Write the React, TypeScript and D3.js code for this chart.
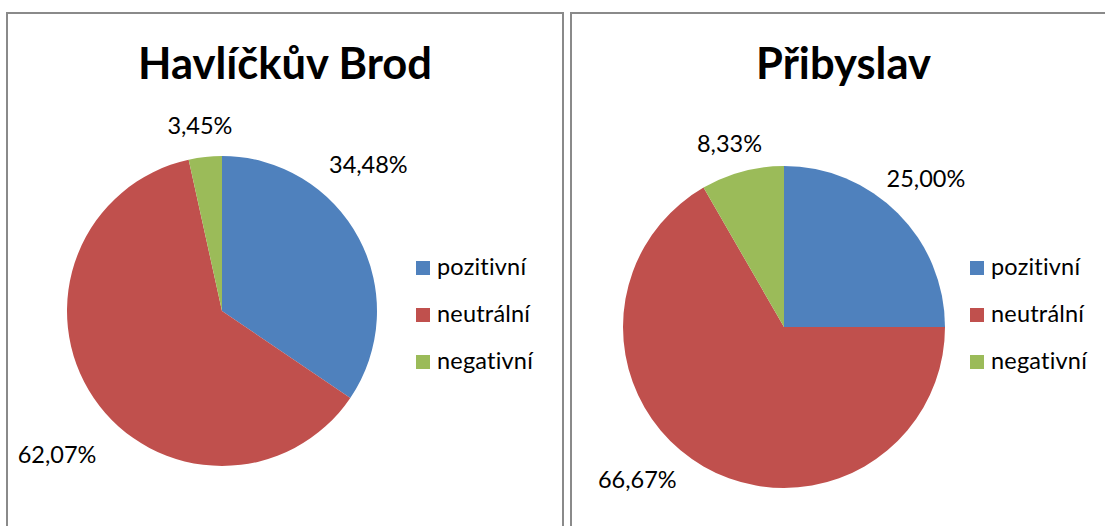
import React from 'react'
import * as d3 from 'd3'

const categories = ['pozitivní', 'neutrální', 'negativní']
const sliceColors = ['#4F81BD', '#C0504D', '#9BBB59']

const brodTitle = 'Havlíčkův Brod'
const brodValues = [34.48, 62.07, 3.45]

const pribyslavTitle = 'Přibyslav'
const pribyslavValues = [25.0, 66.67, 8.33]

const FONT = 'Lato, "Open Sans", sans-serif'
// Lato joins "ti", Calibri in the original doesn't
const noLig = {
  fontVariantLigatures: 'none' as const,
  fontFeatureSettings: '"liga" 0, "clig" 0, "calt" 0, "dlig" 0',
  letterSpacing: '0.2px',
}

type PanelProps = {
  title: string
  values: number[]
  left: number
  right: number
  cx: number
  cy: number
  r: number
  legendX: number
  // label placement, nudges relative to the slice middle (degrees) and radius factors
  labelShift: number[]
  labelRadius: number[]
}

const fmt = (v: number) => v.toFixed(2).replace('.', ',') + '%'

const PiePanel = ({ title, values, left, right, cx, cy, r, legendX, labelShift, labelRadius }: PanelProps) => {
  const pie = d3
    .pie<number>()
    .sort(null)
    .value(d => d)
  const arcs = pie(values)
  const arc = d3.arc<d3.PieArcDatum<number>>().innerRadius(0).outerRadius(r)

  const legendY = d3
    .scalePoint<string>()
    .domain(categories)
    .range([268, 362])

  return (
    <g>
      <rect x={left} y={13} width={right - left} height={560} fill="#fff" stroke="#8a8a8a" strokeWidth={2} />
      <text
        x={(left + right) / 2}
        y={79}
        textAnchor="middle"
        fontFamily={FONT}
        fontWeight="bold"
        fontSize={43.5}
        fill="#000"
        style={{ ...noLig, letterSpacing: '0px' }}
      >
        {title}
      </text>
      <g transform={`translate(${cx},${cy})`}>
        {arcs.map((a, i) => (
          <path key={i} d={arc(a) || ''} fill={sliceColors[i]} />
        ))}
        {arcs.map((a, i) => {
          const mid = (a.startAngle + a.endAngle) / 2 + (labelShift[i] * Math.PI) / 180
          const dist = r * labelRadius[i]
          return (
            <text
              key={'l' + i}
              x={Math.sin(mid) * dist}
              y={-Math.cos(mid) * dist}
              dy="0.36em"
              textAnchor="middle"
              fontFamily={FONT}
              fontSize={23.5}
              fill="#000"
              style={{ ...noLig, letterSpacing: '0px' }}
            >
              {fmt(values[i])}
            </text>
          )
        })}
      </g>
      {categories.map((c, i) => (
        <g key={c} transform={`translate(${legendX},${legendY(c)})`}>
          <rect x={0} y={-7} width={14} height={14} fill={sliceColors[i]} />
          <text x={21} y={7} fontFamily={FONT} fontSize={23.5} fill="#000" style={noLig}>
            {c}
          </text>
        </g>
      ))}
    </g>
  )
}

export default function App() {
  return (
    <svg width={1105} height={526} style={{ position: 'absolute', left: 0, top: 0 }}>
      <rect width={1105} height={526} fill="#fff" />
      <PiePanel
        title={brodTitle}
        values={brodValues}
        left={7}
        right={563}
        cx={222}
        cy={311}
        r={155}
        legendX={416}
        labelShift={[-17, -6.8, -0.6]}
        labelRadius={[1.334, 1.409, 1.202]}
      />
      <PiePanel
        title={pribyslavTitle}
        values={pribyslavValues}
        left={571}
        right={1116}
        cx={784}
        cy={327}
        r={161}
        legendX={970}
        labelShift={[-1.2, 13.8, -1.6]}
        labelRadius={[1.274, 1.316, 1.186]}
      />
    </svg>
  )
}
